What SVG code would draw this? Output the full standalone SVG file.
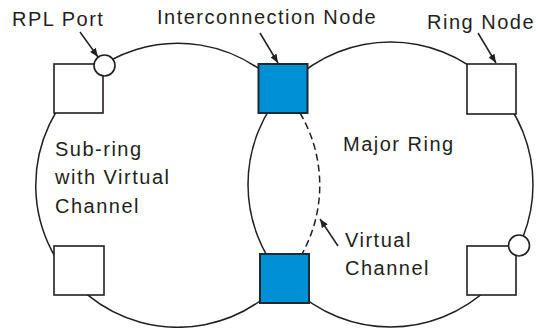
<svg xmlns="http://www.w3.org/2000/svg" width="538" height="328" viewBox="0 0 538 328">
  <style>
    .ring { fill: none; stroke: #231f20; stroke-width: 1.5; }
    .dash { fill: none; stroke: #231f20; stroke-width: 1.5; stroke-dasharray: 7 4; }
    .node { fill: #ffffff; stroke: #231f20; stroke-width: 1.6; }
    .inode { fill: #0090d6; stroke: #1e2a30; stroke-width: 2; }
    .port { fill: #ffffff; stroke: #231f20; stroke-width: 1.6; }
    .arrow { stroke: #231f20; stroke-width: 1.5; fill: none; marker-end: url(#ah); }
    .lbl { font-family: "Liberation Sans", Arial, sans-serif; font-size: 20px; letter-spacing: 1.5px; fill: #231f20; }
  </style>
  <defs>
    <marker id="ah" viewBox="0 0 10 8" refX="10" refY="4" markerWidth="9" markerHeight="7" orient="auto" markerUnits="userSpaceOnUse">
      <path d="M0,0 L10,4 L0,8 z" fill="#231f20"/>
    </marker>
  </defs>
  <rect width="538" height="328" fill="#ffffff"/>
  <g id="connectors">
    <path class="ring" d="M302,254 A142,142 0 1 1 300,113"/>
    <path class="dash" d="M300,113 A142,142 0 0 1 302,254"/>
    <circle class="ring" cx="390.5" cy="184.5" r="142.5"/>
    <line class="arrow" x1="80" y1="32" x2="98" y2="57"/>
    <line class="arrow" x1="260" y1="33" x2="278" y2="63"/>
    <line class="arrow" x1="478" y1="33" x2="496" y2="63"/>
    <line class="arrow" x1="338" y1="246" x2="320" y2="219"/>
  </g>
  <g id="node-top-left">
    <rect class="node" x="54" y="64" width="49" height="49"/>
  </g>
  <g id="rpl-port-left">
    <circle class="port" cx="104.5" cy="65.5" r="10.5"/>
  </g>
  <g id="node-bottom-left">
    <rect class="node" x="54" y="246" width="50" height="49"/>
  </g>
  <g id="node-top-right">
    <rect class="node" x="467" y="64" width="49" height="50"/>
  </g>
  <g id="node-bottom-right">
    <rect class="node" x="467" y="246" width="49" height="49"/>
  </g>
  <g id="rpl-port-right">
    <circle class="port" cx="519" cy="245.5" r="10.5"/>
  </g>
  <g id="interconnection-top">
    <rect class="inode" x="258.5" y="64" width="49" height="49"/>
  </g>
  <g id="interconnection-bottom">
    <rect class="inode" x="260" y="254" width="49" height="49"/>
  </g>
  <g id="labels">
    <text class="lbl" x="12" y="26">RPL Port</text>
    <text class="lbl" x="157" y="24">Interconnection Node</text>
    <text class="lbl" x="427" y="29">Ring Node</text>
    <text class="lbl" x="343" y="151">Major Ring</text>
    <text class="lbl" x="55" y="156">Sub-ring</text>
    <text class="lbl" x="55" y="184">with Virtual</text>
    <text class="lbl" x="55" y="213">Channel</text>
    <text class="lbl" x="345" y="247">Virtual</text>
    <text class="lbl" x="345" y="275">Channel</text>
  </g>
</svg>
